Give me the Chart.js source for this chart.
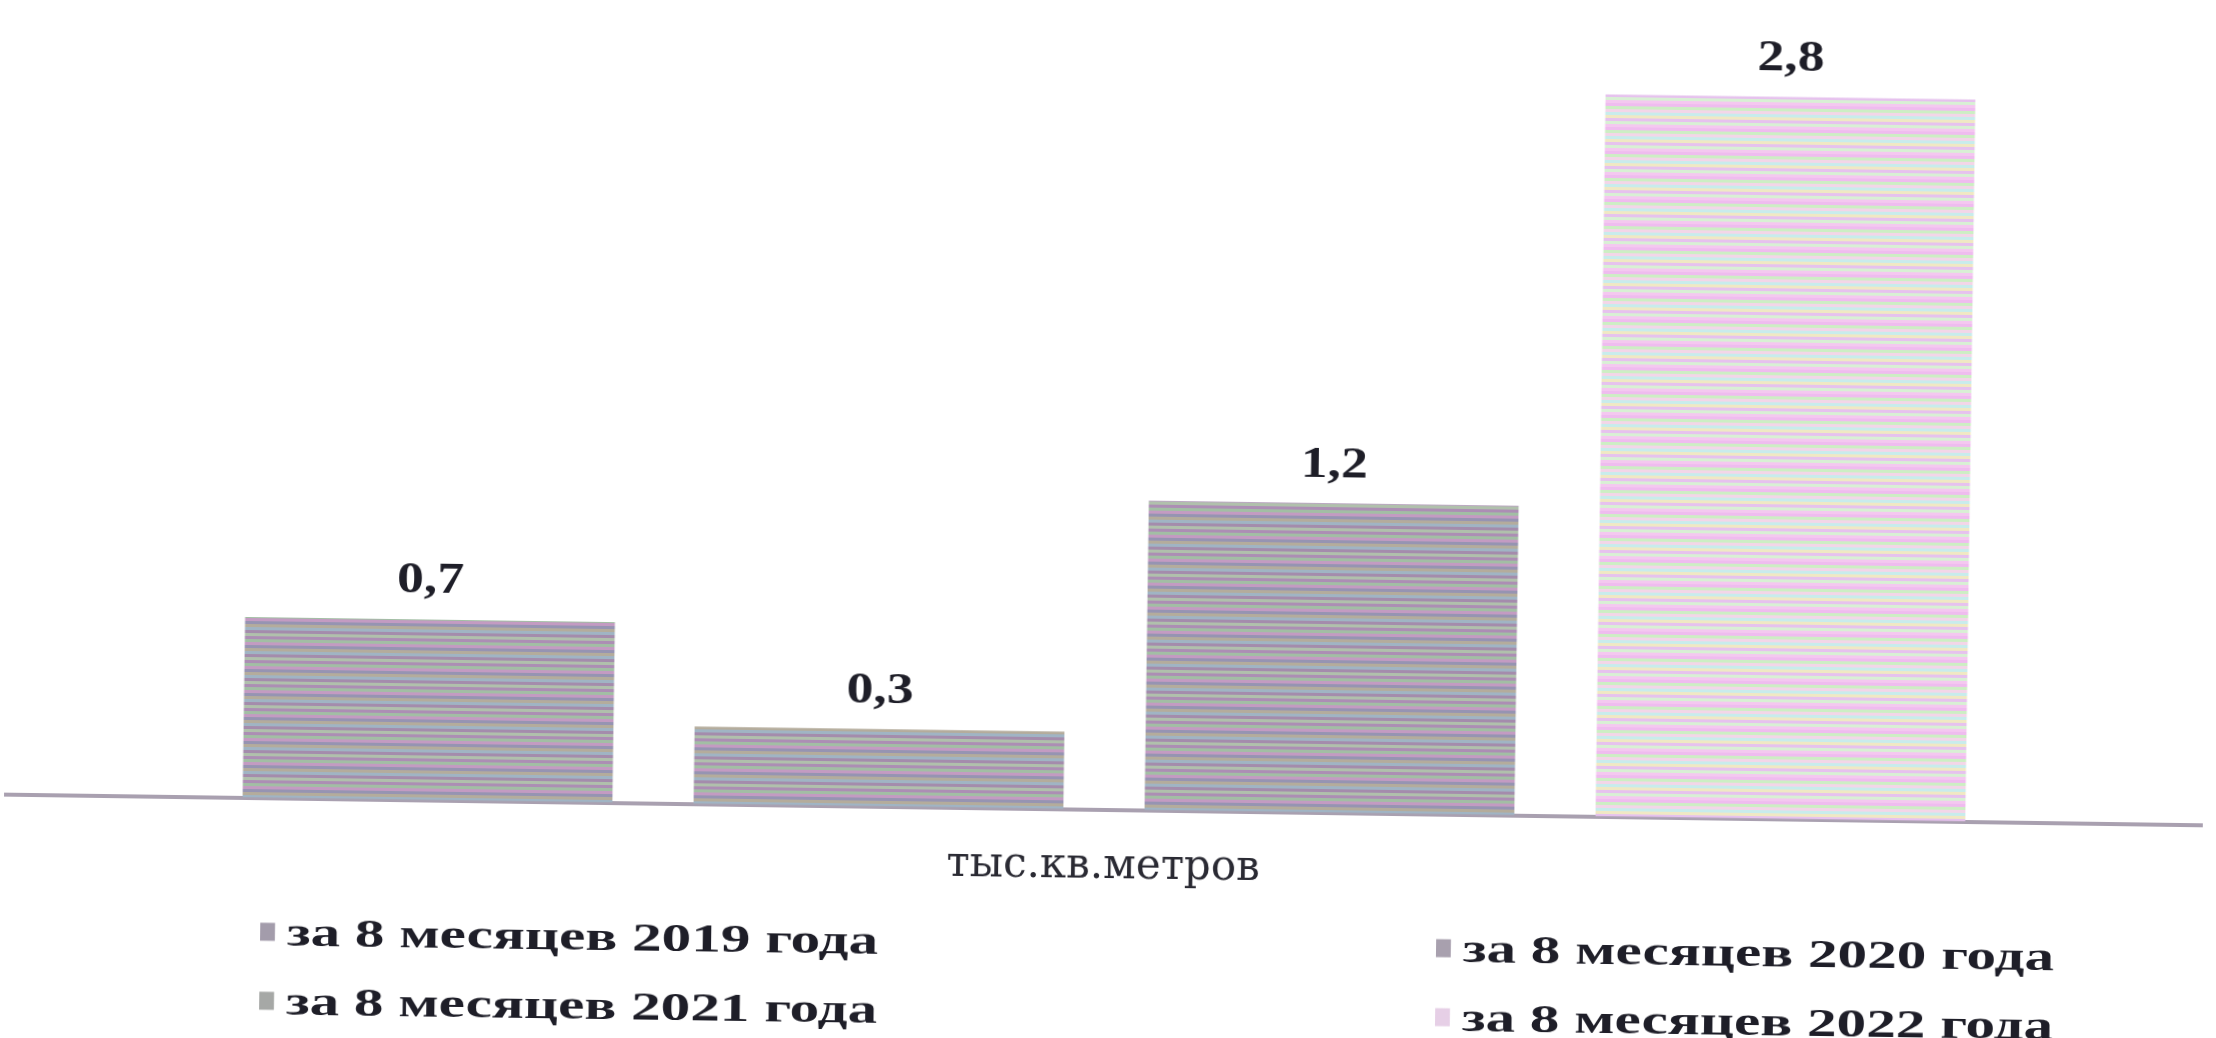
<!DOCTYPE html>
<html>
<head>
<meta charset="utf-8">
<script src="https://cdn.jsdelivr.net/npm/chart.js@4"></script>
<style>
  html, body { margin: 0; padding: 0; background: #fff; overflow: hidden; }
  #wrap { position: relative; width: 2216px; height: 1038px; background: #fff;
          transform: rotate(0.8deg); transform-origin: 1108px 519px; }
  #legend { position: absolute; left: 0; top: 0; width: 2216px; height: 1038px; pointer-events: none;
            font-family: "Liberation Serif", serif; font-weight: bold; font-size: 40px; color: #1e1e28; }
  .item { position: absolute; display: flex; align-items: center; white-space: nowrap;
          transform: translateY(-50%) scaleX(1.48); transform-origin: left center; }
  .box { width: 10px; height: 18px; margin-right: 8px; }
</style>
</head>
<body>
<div id="wrap">
  <canvas id="chart" width="2216" height="1038"></canvas>
  <div id="legend"></div>
</div>
<script>
// data
var categories = ["тыс.кв.метров"];
var seriesNames = ["за 8 месяцев 2019 года", "за 8 месяцев 2020 года", "за 8 месяцев 2021 года", "за 8 месяцев 2022 года"];
var v2019 = [0.7];
var v2020 = [0.3];
var v2021 = [1.2];
var v2022 = [2.8];

// scanned striped fills
var darkStripes = ["#ac8eb4", "#a2bea4", "#c39bc2", "#9694b2", "#b4ac9c", "#a0b4c4", "#a48cac", "#b0c0ac"];
var lightStripes = ["#efbcef", "#cdeec4", "#f3d6e8", "#c8ecec", "#f0e8c4", "#e6c2ee", "#d8f0d4", "#f4c8f0"];
var markerColors = ["#a39cab", "#a8a0ae", "#a6a8a6", "#e6cfe6"];

function stripes(colors) {
  var c = document.createElement("canvas");
  c.width = 8; c.height = colors.length * 3;
  var g = c.getContext("2d");
  colors.forEach(function (col, i) { g.fillStyle = col; g.fillRect(0, i * 3, 8, 3); });
  return g.createPattern(c, "repeat");
}
var fills = [stripes(darkStripes), stripes(darkStripes), stripes(darkStripes), stripes(lightStripes)];

var valueLabels = {
  id: "valueLabels",
  afterDatasetsDraw: function (chart) {
    var ctx = chart.ctx;
    chart.data.datasets.forEach(function (ds, i) {
      chart.getDatasetMeta(i).data.forEach(function (bar, j) {
        ctx.save();
        ctx.translate(bar.x, bar.y - 38);
        ctx.scale(1.22, 1);
        ctx.font = "bold 44px 'Liberation Serif', serif";
        ctx.fillStyle = "#1e1e28";
        ctx.textAlign = "center";
        ctx.textBaseline = "middle";
        ctx.fillText(String(ds.data[j]).replace(".", ","), 0, 0);
        ctx.restore();
      });
    });
  }
};

var allValues = [v2019, v2020, v2021, v2022];
new Chart(document.getElementById("chart"), {
  type: "bar",
  data: {
    labels: categories,
    datasets: allValues.map(function (vals, i) {
      return { label: seriesNames[i], data: vals, backgroundColor: fills[i], borderWidth: 0 };
    })
  },
  options: {
    responsive: false,
    animation: false,
    categoryPercentage: 0.8215,
    barPercentage: 0.82,
    layout: { padding: { top: 36, left: 10, right: 10, bottom: 114 } },
    plugins: { legend: { display: false }, tooltip: { enabled: false } },
    scales: {
      x: {
        grid: { display: false, drawTicks: false },
        border: { display: true, color: "#a9a0b0", width: 4 },
        ticks: { padding: 32, color: "#2a2a33", font: { family: "'DejaVu Serif', serif", size: 42 } }
      },
      y: { display: false, min: 0, max: 3 }
    }
  },
  plugins: [valueLabels]
});

// legend in two columns
var pos = [[266, 943], [1442, 943], [266, 1012], [1442, 1012]];
var legend = document.getElementById("legend");
seriesNames.forEach(function (name, i) {
  var d = document.createElement("div");
  d.className = "item";
  d.style.left = pos[i][0] + "px";
  d.style.top = pos[i][1] + "px";
  d.innerHTML = '<span class="box" style="background:' + markerColors[i] + '"></span><span>' + name + '</span>';
  legend.appendChild(d);
});
</script>
</body>
</html>
